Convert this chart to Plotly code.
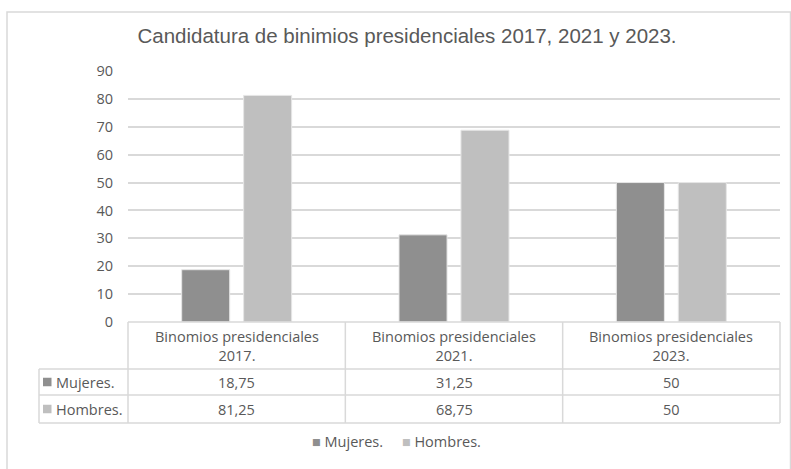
import plotly.graph_objects as go

categories = ["Binomios presidenciales<br>2017.", "Binomios presidenciales<br>2021.", "Binomios presidenciales<br>2023."]
series_names = ["Mujeres.", "Hombres."]
mujeres = [18.75, 31.25, 50]
hombres = [81.25, 68.75, 50]
table_text_mujeres = ["18,75", "31,25", "50"]
table_text_hombres = ["81,25", "68,75", "50"]
colors = ["#8F8F8F", "#BFBFBF"]
title = "Candidatura de binimios presidenciales 2017, 2021 y 2023."

W, H = 791, 469
L, R, T, B = 128, 11, 71, 147
pw, ph = W - L - R, H - T - B
def px(x):
    return (x - L) / pw
def py(y):
    return (H - B - y) / ph

FONT = "Open Sans"
FS = 14.5
TXT = "#595959"
GRID = "#D9D9D9"

xs = list(range(len(categories)))
bw = 0.221
gap = 0.032
fig = go.Figure()
fig.add_trace(go.Bar(x=xs, y=mujeres, name=series_names[0], width=bw, offset=-gap - bw,
                     marker=dict(color=colors[0], line=dict(color="#E6E6E6", width=1))))
fig.add_trace(go.Bar(x=xs, y=hombres, name=series_names[1], width=bw, offset=gap,
                     marker=dict(color=colors[1], line=dict(color="#E6E6E6", width=1))))

shapes = []
shapes.append(dict(type="rect", xref="paper", yref="paper", x0=px(7), x1=px(790.5), y0=py(480), y1=py(12),
                   line=dict(color=GRID, width=1.5), fillcolor="rgba(0,0,0,0)", layer="below"))
n = len(categories)
y_top, y_hdr, y_r1, y_r2 = py(322), py(369), py(395), py(423)
x_lab = px(39)
shapes.append(dict(type="line", xref="paper", yref="paper", x0=0, x1=1, y0=y_top, y1=y_top, line=dict(color=GRID, width=1.5)))
for yy in (y_hdr, y_r1, y_r2):
    shapes.append(dict(type="line", xref="paper", yref="paper", x0=x_lab, x1=1, y0=yy, y1=yy, line=dict(color=GRID, width=1.5)))
for i in range(n + 1):
    shapes.append(dict(type="line", xref="paper", yref="paper", x0=i / n, x1=i / n, y0=y_r2, y1=y_top, line=dict(color=GRID, width=1.5)))
shapes.append(dict(type="line", xref="paper", yref="paper", x0=x_lab, x1=x_lab, y0=y_r2, y1=y_hdr, line=dict(color=GRID, width=1.5)))
for k, (ya, yb) in enumerate([(y_hdr, y_r1), (y_r1, y_r2)]):
    yc = (ya + yb) / 2
    shapes.append(dict(type="rect", xref="paper", yref="paper", x0=px(43), x1=px(51.5), y0=yc - 4.25 / ph, y1=yc + 4.25 / ph,
                       line=dict(width=0), fillcolor=colors[k]))

annotations = []
fnt = dict(family=FONT, size=FS, color=TXT)
for i, c in enumerate(categories):
    annotations.append(dict(x=i, xref="x", yref="paper", y=(y_top + y_hdr) / 2, text=c, showarrow=False,
                            font=fnt, xanchor="center", yanchor="middle"))
    annotations.append(dict(x=i, xref="x", yref="paper", y=(y_hdr + y_r1) / 2, text=table_text_mujeres[i], showarrow=False,
                            font=fnt, xanchor="center", yanchor="middle"))
    annotations.append(dict(x=i, xref="x", yref="paper", y=(y_r1 + y_r2) / 2, text=table_text_hombres[i], showarrow=False,
                            font=fnt, xanchor="center", yanchor="middle"))
for k, (ya, yb) in enumerate([(y_hdr, y_r1), (y_r1, y_r2)]):
    annotations.append(dict(x=px(54), xref="paper", yref="paper", y=(ya + yb) / 2, text=series_names[k], showarrow=False,
                            font=fnt, xanchor="left", yanchor="middle"))

legend_text = "     ".join(f"<span style='color:{colors[k]}'>■</span> {series_names[k]}" for k in range(len(series_names)))
annotations.append(dict(x=px(396), xref="paper", yref="paper", y=py(441), text=legend_text, showarrow=False,
                        font=fnt, xanchor="center", yanchor="middle"))

fig.update_layout(
    width=W, height=H,
    margin=dict(l=L, r=R, t=T, b=B, autoexpand=False),
    paper_bgcolor="white", plot_bgcolor="white",
    title=dict(text=title, xref="container", x=407 / W, xanchor="center", y=1 - 36 / H, yanchor="middle",
               font=dict(family="Liberation Sans", size=20.5, color=TXT)),
    barmode="overlay",
    xaxis=dict(range=[-0.5, n - 0.5], showticklabels=False, showgrid=False, zeroline=False, showline=False, ticks=""),
    yaxis=dict(range=[0, 90], dtick=10, showgrid=True, gridcolor=GRID, gridwidth=1.5, zeroline=False, showline=False,
               ticks="", ticklabelstandoff=14, tickfont=fnt),
    shapes=shapes, annotations=annotations,
    showlegend=False,
)

fig.write_html("out.html", config={"displayModeBar": False}, post_script="document.body.style.margin='0';")
